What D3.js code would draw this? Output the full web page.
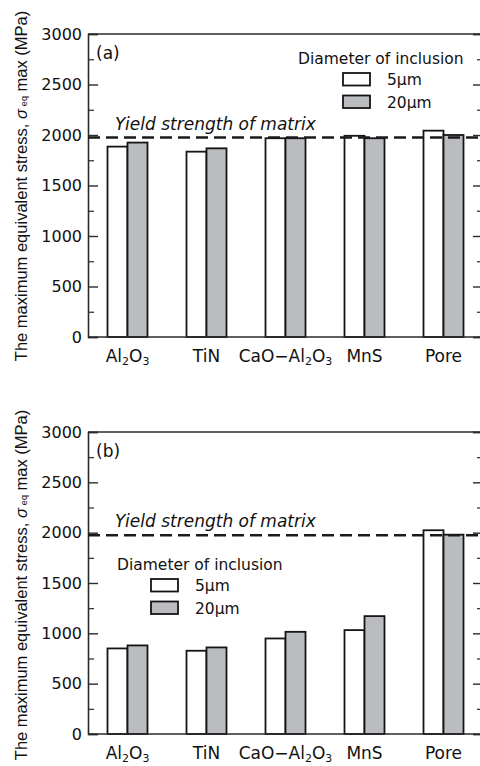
<!DOCTYPE html>
<html>
<head>
<meta charset="utf-8">
<script src="https://cdn.jsdelivr.net/npm/d3@7"></script>
<style>
  body { margin: 0; background: #fff; }
  svg { display: block; font-family: "DejaVu Sans", Arial, sans-serif; }
</style>
</head>
<body>
<svg id="chart" width="480" height="766"></svg>
<script>
const categories = ["Al2O3", "TiN", "CaO-Al2O3", "MnS", "Pore"],
  sizes = ["5μm", "20μm"],
  valuesA5 = [1885, 1835, 1968, 1992, 2043],
  valuesA20 = [1925, 1868, 1968, 1968, 2000],
  valuesB5 = [850, 827, 949, 1032, 2024],
  valuesB20 = [880, 860, 1015, 1171, 1980],
  yieldStrength = 1975,
  yTicks = [0, 500, 1000, 1500, 2000, 2500, 3000]

const plotLeft = 88,
  plotRight = 483,
  greyFill = '#bbbcc0',
  axisColor = '#2a2a2a',
  textColor = '#111'

const svg = d3.select('#chart')

const x0 = d3.scaleBand()
  .domain(categories)
  .range([plotLeft, plotRight])

const x1 = d3.scaleBand()
  .domain(sizes)
  .range([0, x0.bandwidth()])
  .paddingOuter(0.975)

const fills = {"5μm": '#ffffff', "20μm": greyFill}

// label with chemical subscripts, shift carried to the next piece
function chemLabel(sel, name) {
  const parts = name.replace('-', '\u2212').split(/(\d)/).filter(p => p !== '')
  let shift = 0
  parts.forEach(p => {
    const isSub = /\d/.test(p)
    const want = isSub ? 3 : 0
    const ts = sel.append('tspan').attr('dy', want - shift).text(p)
    if (isSub) ts.attr('font-size', 11)
    shift = want
  })
}

function drawPanel(cfg) {
  const y = d3.scaleLinear().domain([0, 3000]).range([cfg.bottom, cfg.top])
  const g = svg.append('g')

  // top frame line
  g.append('line')
    .attr('x1', plotLeft).attr('x2', 480)
    .attr('y1', cfg.top).attr('y2', cfg.top)
    .attr('stroke', axisColor).attr('stroke-width', 1.5)

  const minor = d3.range(250, 3000, 500)

  // left axis, inward ticks
  g.append('g')
    .attr('transform', `translate(${plotLeft},0)`)
    .call(d3.axisRight(y).tickValues(yTicks).tickSize(10).tickFormat(''))
    .call(a => a.select('.domain').attr('stroke', axisColor).attr('stroke-width', 1.6))
    .call(a => a.selectAll('.tick line').attr('stroke', axisColor).attr('stroke-width', 1.4))
  g.append('g')
    .attr('transform', `translate(${plotLeft},0)`)
    .call(d3.axisRight(y).tickValues(minor).tickSize(6).tickFormat(''))
    .call(a => a.select('.domain').remove())
    .call(a => a.selectAll('.tick line').attr('stroke', axisColor).attr('stroke-width', 1.2))

  // right axis, inward ticks
  g.append('g')
    .attr('transform', `translate(${plotRight},0)`)
    .call(d3.axisLeft(y).tickValues(yTicks).tickSize(10).tickFormat(''))
    .call(a => a.select('.domain').attr('stroke', axisColor).attr('stroke-width', 1.6))
    .call(a => a.selectAll('.tick line').attr('stroke', axisColor).attr('stroke-width', 1.4))
  g.append('g')
    .attr('transform', `translate(${plotRight},0)`)
    .call(d3.axisLeft(y).tickValues(minor).tickSize(6).tickFormat(''))
    .call(a => a.select('.domain').remove())
    .call(a => a.selectAll('.tick line').attr('stroke', axisColor).attr('stroke-width', 1.2))

  // tick labels
  g.selectAll('.ylab')
    .data(yTicks)
    .enter().append('text')
    .attr('x', 82)
    .attr('y', d => y(d))
    .attr('dy', '0.36em')
    .attr('text-anchor', 'end')
    .attr('font-size', 16)
    .attr('fill', textColor)
    .text(d => d)

  // bars
  const rows = categories.map((c, i) => ({cat: c, vals: [
    {size: sizes[0], v: cfg.v5[i]},
    {size: sizes[1], v: cfg.v20[i]}
  ]}))

  const groups = g.selectAll('.grp')
    .data(rows)
    .enter().append('g')
    .attr('transform', d => `translate(${x0(d.cat)},0)`)

  groups.selectAll('rect')
    .data(d => d.vals)
    .enter().append('rect')
    .attr('x', d => x1(d.size))
    .attr('width', x1.bandwidth())
    .attr('y', d => y(d.v))
    .attr('height', d => y(0) - y(d.v))
    .attr('fill', d => fills[d.size])
    .attr('stroke', '#151515')
    .attr('stroke-width', 1.8)

  // baseline over bars
  g.append('line')
    .attr('x1', plotLeft).attr('x2', plotRight)
    .attr('y1', y(0)).attr('y2', y(0))
    .attr('stroke', axisColor).attr('stroke-width', 1.6)

  // yield line
  g.append('line')
    .attr('x1', plotLeft).attr('x2', plotRight)
    .attr('y1', y(yieldStrength)).attr('y2', y(yieldStrength))
    .attr('stroke', '#1a1a1a').attr('stroke-width', 2.6)
    .attr('stroke-dasharray', '12,6')

  g.append('text')
    .attr('x', 115)
    .attr('y', y(yieldStrength) - 8)
    .attr('font-size', 17)
    .attr('font-style', 'italic')
    .attr('fill', textColor)
    .text('Yield strength of matrix')

  g.append('text')
    .attr('x', 96)
    .attr('y', cfg.top + 25)
    .attr('font-size', 17)
    .attr('fill', textColor)
    .text(cfg.tag)

  // category labels
  g.selectAll('.xlab')
    .data(categories)
    .enter().append('text')
    .attr('x', d => x0(d) + x0.bandwidth() / 2)
    .attr('y', y(0) + 25)
    .attr('text-anchor', 'middle')
    .attr('font-size', 17)
    .attr('fill', textColor)
    .each(function (d) { chemLabel(d3.select(this), d) })

  // legend
  const lg = cfg.legend
  g.append('text')
    .attr('x', lg.x).attr('y', lg.y)
    .attr('font-size', 15.5)
    .attr('fill', textColor)
    .text('Diameter of inclusion')
  sizes.forEach((s, i) => {
    g.append('rect')
      .attr('x', lg.bx).attr('y', lg.y + 9 + i * 22.5)
      .attr('width', 27).attr('height', 12.5)
      .attr('fill', fills[s])
      .attr('stroke', '#151515').attr('stroke-width', 1.8)
    g.append('text')
      .attr('x', lg.bx + 44).attr('y', lg.y + 21 + i * 22.5)
      .attr('font-size', 15.5)
      .attr('fill', textColor)
      .text(s)
  })

  // y axis title
  const t = g.append('text')
    .attr('transform', `translate(27,${cfg.labelY}) rotate(-90)`)
    .attr('text-anchor', 'middle')
    .attr('font-family', '"Liberation Sans", Arial, sans-serif')
    .attr('font-size', 16.5)
    .attr('fill', textColor)
  t.append('tspan').text('The maximum equivalent stress, ')
  t.append('tspan').attr('font-style', 'italic').text('σ')
  t.append('tspan').attr('font-size', 9).attr('dx', 3).text('eq')
  t.append('tspan').text(' max (MPa)')
}

drawPanel({
  top: 34, bottom: 337, v5: valuesA5, v20: valuesA20, tag: '(a)',
  legend: {x: 298, y: 64, bx: 343}, labelY: 186
})

drawPanel({
  top: 432, bottom: 734, v5: valuesB5, v20: valuesB20, tag: '(b)',
  legend: {x: 117, y: 570, bx: 151}, labelY: 585
})
</script>
</body>
</html>
